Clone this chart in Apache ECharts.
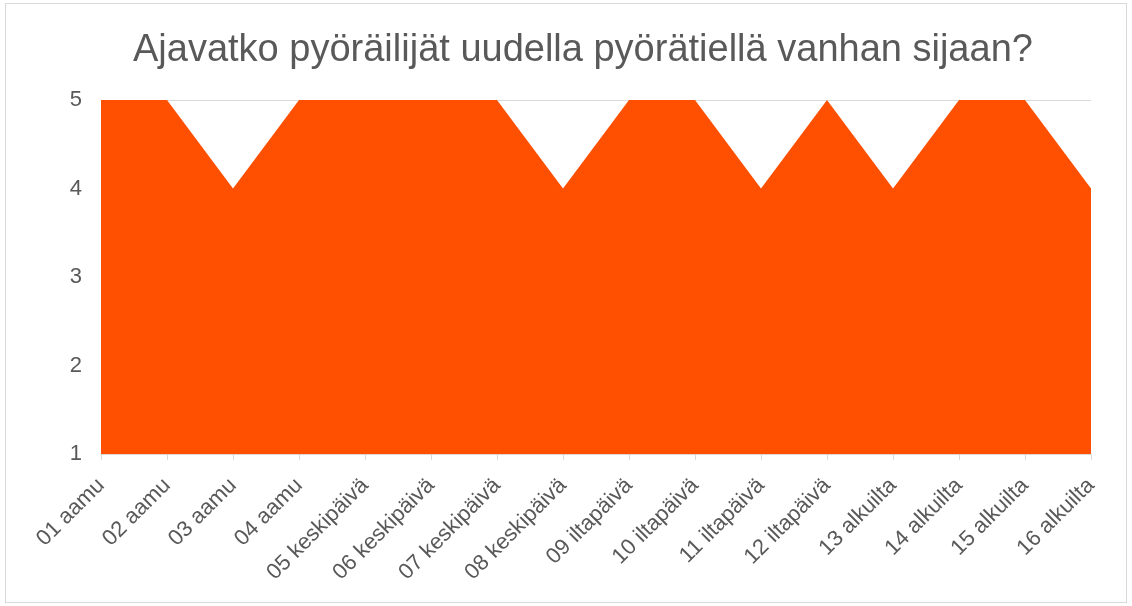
<!DOCTYPE html>
<html>
<head>
    <meta charset="utf-8" />
    <script src="https://cdn.jsdelivr.net/npm/echarts@6/dist/echarts.min.js"></script>
    <style>
        html, body { margin: 0; padding: 0; background: #fff; }
        #frame { position: absolute; left: 5px; top: 3px; width: 1120px; height: 598px; border: 1px solid #d9d9d9; }
        #main { position: absolute; left: 0; top: 0; width: 1132px; height: 606px; }
    </style>
</head>
<body>
    <div id="frame"></div>
    <div id="main"></div>
    <script>
        var categories = ['01 aamu', '02 aamu', '03 aamu', '04 aamu', '05 keskipäivä', '06 keskipäivä',
            '07 keskipäivä', '08 keskipäivä', '09 iltapäivä', '10 iltapäivä', '11 iltapäivä', '12 iltapäivä',
            '13 alkuilta', '14 alkuilta', '15 alkuilta', '16 alkuilta'];
        var values = [5, 5, 4, 5, 5, 5, 5, 4, 5, 5, 4, 5, 4, 5, 5, 4];

        var myChart = echarts.init(document.getElementById('main'));
        var option = {
            animation: false,
            title: {
                text: 'Ajavatko pyöräilijät uudella pyörätiellä vanhan sijaan?',
                left: 128,
                top: 27,
                textStyle: { fontFamily: 'Liberation Sans', fontSize: 38, fontWeight: 'normal', color: '#595959' }
            },
            grid: { left: 101, right: 41, top: 100, bottom: 152 },
            xAxis: {
                type: 'category',
                data: categories,
                boundaryGap: false,
                axisLine: { lineStyle: { color: '#d9d9d9', width: 1 } },
                axisTick: { show: true, length: 6, lineStyle: { color: '#d9d9d9' } },
                axisLabel: {
                    interval: 0,
                    rotate: 45,
                    margin: 28,
                    fontFamily: 'Liberation Sans',
                    fontSize: 22,
                    color: '#595959'
                }
            },
            yAxis: {
                type: 'value',
                min: 1,
                max: 5,
                interval: 1,
                axisLine: { show: false },
                axisTick: { show: false },
                splitLine: { lineStyle: { color: '#d9d9d9' } },
                axisLabel: { margin: 19, fontFamily: 'Liberation Sans', fontSize: 22, color: '#595959' }
            },
            series: [
                {
                    type: 'line',
                    data: values,
                    symbol: 'none',
                    lineStyle: { width: 0 },
                    areaStyle: { color: '#FE5000', opacity: 1, origin: 'start' },
                    z: 3
                }
            ]
        };
        myChart.setOption(option);
    </script>
</body>
</html>
